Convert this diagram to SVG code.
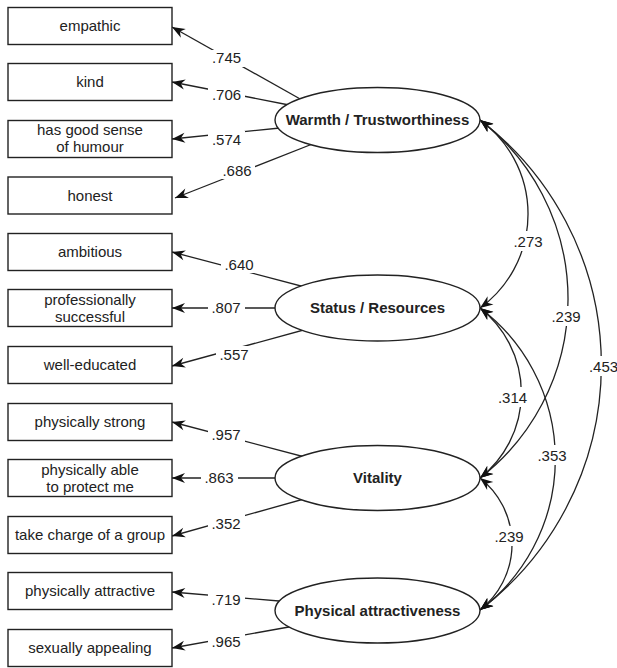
<svg xmlns="http://www.w3.org/2000/svg" width="617" height="668" viewBox="0 0 617 668">
<style>
.box{fill:#fff;stroke:#222;stroke-width:1.4}
.ell{fill:#fff;stroke:#222;stroke-width:1.4}
.t{font-family:"Liberation Sans",Arial,sans-serif;font-size:15px;fill:#222;text-anchor:middle}
.b{font-weight:bold}
.ln{fill:none;stroke:#222;stroke-width:1.3}
.bg{fill:#fff}
</style>
<defs>
<marker id="ah" viewBox="-14 -6 15 12" refX="0" refY="0" markerWidth="15" markerHeight="12" markerUnits="userSpaceOnUse" orient="auto-start-reverse">
<path d="M0,0 L-13,-5 L-9,0 L-13,5 Z" fill="#111"/>
</marker>
</defs>
<g id="connectors">
<g id="loadings">
<line class="ln" x1="302" y1="100" x2="172" y2="27" marker-end="url(#ah)"/>
<line class="ln" x1="289" y1="105" x2="172" y2="82" marker-end="url(#ah)"/>
<line class="ln" x1="280" y1="128" x2="172" y2="139" marker-end="url(#ah)"/>
<line class="ln" x1="320" y1="141" x2="175" y2="198" marker-end="url(#ah)"/>
<line class="ln" x1="320" y1="291" x2="172" y2="252" marker-end="url(#ah)"/>
<line class="ln" x1="285" y1="308" x2="172" y2="308" marker-end="url(#ah)"/>
<line class="ln" x1="320" y1="325.5" x2="172" y2="366" marker-end="url(#ah)"/>
<line class="ln" x1="320" y1="461" x2="172" y2="422" marker-end="url(#ah)"/>
<line class="ln" x1="285" y1="478" x2="172" y2="478" marker-end="url(#ah)"/>
<line class="ln" x1="320" y1="494.5" x2="172" y2="536" marker-end="url(#ah)"/>
<line class="ln" x1="285" y1="601.5" x2="172" y2="592" marker-end="url(#ah)"/>
<line class="ln" x1="300" y1="625" x2="172" y2="648" marker-end="url(#ah)"/>
</g>
<g id="correlations">
<path class="ln" d="M480,120 A116,116 0 0 1 480,308" marker-start="url(#ah)" marker-end="url(#ah)"/>
<path class="ln" d="M480,120 A226,226 0 0 1 480,478" marker-start="url(#ah)" marker-end="url(#ah)"/>
<path class="ln" d="M480,120 A308,308 0 0 1 480,610" marker-start="url(#ah)" marker-end="url(#ah)"/>
<path class="ln" d="M480,308 A108,108 0 0 1 480,478" marker-start="url(#ah)" marker-end="url(#ah)"/>
<path class="ln" d="M480,308 A189,189 0 0 1 480,610" marker-start="url(#ah)" marker-end="url(#ah)"/>
<path class="ln" d="M480,478 A84,84 0 0 1 480,610" marker-start="url(#ah)" marker-end="url(#ah)"/>
</g>
<g id="labels">
<rect class="bg" x="208" y="50" width="37" height="17"/><text class="t" x="226.5" y="63">.745</text>
<rect class="bg" x="208" y="87" width="37" height="17"/><text class="t" x="226.5" y="100">.706</text>
<rect class="bg" x="208" y="131" width="37" height="18"/><text class="t" x="226.5" y="145">.574</text>
<rect class="bg" x="218" y="162" width="37" height="17"/><text class="t" x="237" y="176">.686</text>
<rect class="bg" x="221" y="256" width="37" height="17"/><text class="t" x="239" y="270">.640</text>
<rect class="bg" x="208" y="299" width="37" height="17"/><text class="t" x="226" y="313">.807</text>
<rect class="bg" x="216" y="346" width="37" height="17"/><text class="t" x="234" y="360">.557</text>
<rect class="bg" x="208" y="426" width="37" height="17"/><text class="t" x="226" y="440">.957</text>
<rect class="bg" x="201" y="469" width="37" height="17"/><text class="t" x="219" y="483">.863</text>
<rect class="bg" x="208" y="514" width="37" height="19"/><text class="t" x="226" y="529">.352</text>
<rect class="bg" x="208" y="591" width="37" height="17"/><text class="t" x="226" y="605">.719</text>
<rect class="bg" x="208" y="632" width="37" height="18"/><text class="t" x="226" y="647">.965</text>
<rect class="bg" x="511" y="231" width="34" height="20"/><text class="t" x="528" y="247">.273</text>
<rect class="bg" x="549" y="306" width="34" height="20"/><text class="t" x="566" y="322">.239</text>
<rect class="bg" x="587" y="356" width="32" height="20"/><text class="t" x="603.5" y="372">.453</text>
<rect class="bg" x="496" y="387" width="33" height="20"/><text class="t" x="512.5" y="403">.314</text>
<rect class="bg" x="536" y="445" width="33" height="20"/><text class="t" x="552" y="461">.353</text>
<rect class="bg" x="493" y="526" width="33" height="20"/><text class="t" x="509" y="542">.239</text>
</g>
</g>
<g id="n-empathic"><rect class="box" x="8" y="7.5" width="164" height="37"/><text class="t" x="90" y="31">empathic</text></g>
<g id="n-kind"><rect class="box" x="8" y="63.5" width="164" height="37"/><text class="t" x="90" y="87">kind</text></g>
<g id="n-humour"><rect class="box" x="8" y="120.5" width="164" height="37"/><text class="t" x="90" y="135">has good sense</text><text class="t" x="90" y="152">of humour</text></g>
<g id="n-honest"><rect class="box" x="8" y="177" width="164" height="37"/><text class="t" x="90" y="200.5">honest</text></g>
<g id="n-ambitious"><rect class="box" x="8" y="233.5" width="164" height="37"/><text class="t" x="90" y="257">ambitious</text></g>
<g id="n-professional"><rect class="box" x="8" y="289.5" width="164" height="37"/><text class="t" x="90" y="305">professionally</text><text class="t" x="90" y="322">successful</text></g>
<g id="n-educated"><rect class="box" x="8" y="346.5" width="164" height="37"/><text class="t" x="90" y="370">well-educated</text></g>
<g id="n-strong"><rect class="box" x="8" y="403.5" width="164" height="37"/><text class="t" x="90" y="427">physically strong</text></g>
<g id="n-protect"><rect class="box" x="8" y="459.5" width="164" height="37"/><text class="t" x="90" y="475">physically able</text><text class="t" x="90" y="492">to protect me</text></g>
<g id="n-charge"><rect class="box" x="8" y="516.5" width="164" height="37"/><text class="t" x="90" y="540">take charge of a group</text></g>
<g id="n-attractive"><rect class="box" x="8" y="572.5" width="164" height="37"/><text class="t" x="90" y="596">physically attractive</text></g>
<g id="n-appealing"><rect class="box" x="8" y="629.5" width="164" height="37"/><text class="t" x="90" y="653">sexually appealing</text></g>
<g id="n-warmth"><ellipse class="ell" cx="377.5" cy="120" rx="102.5" ry="32.5"/><text class="t b" x="377.5" y="125">Warmth / Trustworthiness</text></g>
<g id="n-status"><ellipse class="ell" cx="377.5" cy="308" rx="102.5" ry="33"/><text class="t b" x="377.5" y="313">Status / Resources</text></g>
<g id="n-vitality"><ellipse class="ell" cx="377.5" cy="478" rx="102.5" ry="32.5"/><text class="t b" x="377.5" y="483">Vitality</text></g>
<g id="n-physical"><ellipse class="ell" cx="377.5" cy="610.5" rx="102.5" ry="32.5"/><text class="t b" x="377.5" y="615.5">Physical attractiveness</text></g>
</svg>
